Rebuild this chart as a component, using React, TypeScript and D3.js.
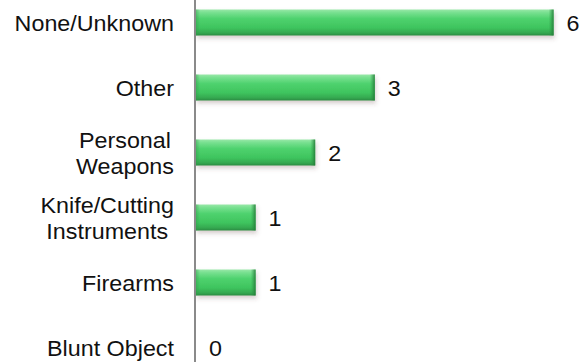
import React from "react";
import * as d3 from "d3";

const categories = [
  "None/Unknown",
  "Other",
  "Personal\nWeapons",
  "Knife/Cutting\nInstruments",
  "Firearms",
  "Blunt Object",
];
const values = [6, 3, 2, 1, 1, 0];

const W = 581;
const H = 362;
const FONT = "'Liberation Sans', Arial, sans-serif";
const FS = 22;
const SX = 1.06;

let ctx: CanvasRenderingContext2D | null = null;
function measure(t: string) {
  if (!ctx) ctx = document.createElement("canvas").getContext("2d");
  if (!ctx) return t.length * FS * 0.5;
  ctx.font = `${FS}px ${FONT}`;
  return ctx.measureText(t).width * SX;
}

export default function App() {
  const x = d3.scaleLinear().domain([0, 6]).range([196, 553.6]);
  const y = d3
    .scaleBand<string>()
    .domain(categories)
    .range([-10, 380])
    .paddingInner(0.6)
    .paddingOuter(0.3);
  const bh = y.bandwidth();
  const labelRight = 174;

  return (
    <svg
      width={W}
      height={H}
      style={{ position: "fixed", left: 0, top: 0, background: "#fff" }}
      fontFamily={FONT}
    >
      <defs>
        <linearGradient id="barG" x1="0" y1="0" x2="0" y2="1">
          <stop offset="0" stopColor="#98e8a8" />
          <stop offset="0.12" stopColor="#78e090" />
          <stop offset="0.35" stopColor="#4fd26e" />
          <stop offset="0.7" stopColor="#3ec45e" />
          <stop offset="0.9" stopColor="#35a850" />
          <stop offset="1" stopColor="#2b8a41" />
        </linearGradient>
        <linearGradient id="endG" x1="0" y1="0" x2="1" y2="0">
          <stop offset="0" stopColor="#2f9a48" stopOpacity="0" />
          <stop offset="1" stopColor="#237a37" stopOpacity="0.9" />
        </linearGradient>
        <linearGradient id="startG" x1="0" y1="0" x2="1" y2="0">
          <stop offset="0" stopColor="#2f9a48" stopOpacity="0.5" />
          <stop offset="1" stopColor="#2f9a48" stopOpacity="0" />
        </linearGradient>
        <filter id="sh" x="-10%" y="-30%" width="120%" height="180%">
          <feDropShadow dx="1" dy="3" stdDeviation="2" floodColor="#5a3a3a" floodOpacity="0.25" />
        </filter>
      </defs>

      {categories.map((c, i) => {
        const v = values[i];
        const yc = (y(c) as number) + bh / 2;
        const x0 = x(0);
        const x1 = x(v);
        return (
          <g key={c}>
            {v > 0 && (
              <g filter="url(#sh)">
                <rect x={x0} y={yc - bh / 2} width={x1 - x0} height={bh} fill="url(#barG)" />
                <rect x={x1 - 5} y={yc - bh / 2} width={5} height={bh} fill="url(#endG)" />
                <rect x={x0} y={yc - bh / 2} width={4} height={bh} fill="url(#startG)" />
              </g>
            )}
            <text
              transform={`translate(${x1 + 13},${yc + 8}) scale(${SX},1)`}
              fontSize={FS}
              fill="#111"
            >
              {v}
            </text>
          </g>
        );
      })}

      <line x1={195} x2={195} y1={0} y2={H} stroke="#8a8a8a" strokeWidth={2} />

      {categories.map((c) => {
        const lines = c.split("\n");
        const yc = (y(c) as number) + bh / 2;
        const wmax = Math.max(...lines.map(measure));
        const cx = labelRight - wmax / 2;
        const lh = 26;
        const first = yc + 8 - ((lines.length - 1) * lh) / 2;
        return (
          <g key={c}>
            {lines.map((l, j) => (
              <text
                key={j}
                transform={`translate(${cx},${first + j * lh}) scale(${SX},1)`}
                textAnchor="middle"
                fontSize={FS}
                fill="#111"
              >
                {l}
              </text>
            ))}
          </g>
        );
      })}
    </svg>
  );
}
